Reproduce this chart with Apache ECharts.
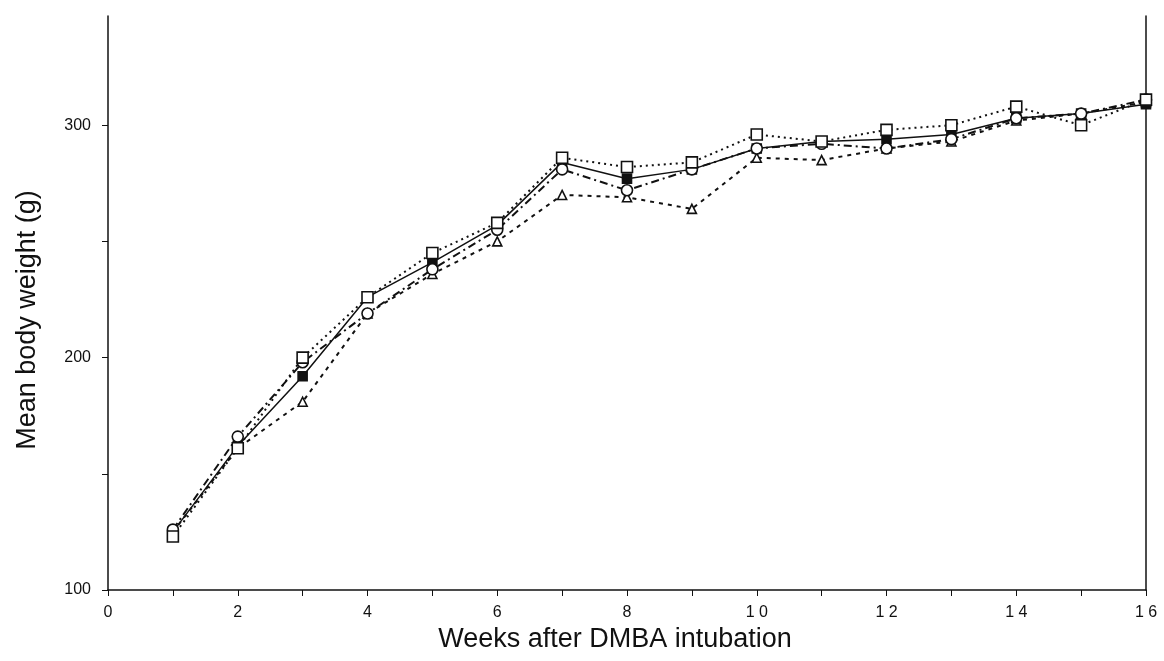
<!DOCTYPE html>
<html>
<head>
<meta charset="utf-8">
<script src="https://cdn.jsdelivr.net/npm/echarts@6/dist/echarts.min.js"></script>
<style>
  html, body { margin: 0; padding: 0; background: #fff; }
  #main { width: 1164px; height: 661px; }
</style>
</head>
<body>
<div id="main"></div>
<script>
// weeks after intubation
const weeks = [1, 2, 3, 4, 5, 6, 7, 8, 9, 10, 11, 12, 13, 14, 15, 16]
// mean body weight (g), one list per group
const solidSquare = [125, 162, 192, 226, 241, 257, 284, 277, 281, 290, 293, 294, 296, 303, 305, 309]
const dottedSquare = [123, 161, 200, 226, 245, 258, 286, 282, 284, 296, 293, 298, 300, 308, 300, 311]
const dashDotCircle = [126, 166, 198, 219, 238, 255, 281, 272, 281, 290, 292, 290, 294, 303, 305, 311]
const dashedTriangle = [125, 161, 181, 219, 236, 250, 270, 269, 264, 286, 285, 290, 293, 302, 305, 310]
const xLabels = [0, 2, 4, 6, 8, 10, 12, 14, 16]
const yTicks = [100, 150, 200, 250, 300]
const yLabels = [100, 200, 300]

const ink = '#111'
const font = 'Liberation Sans, Arial, sans-serif'

function pairs(vals) {
  return weeks.map((w, i) => [w, vals[i]])
}

function makeSeries(name, vals, dash, symbol, filled, size) {
  return {
    name: name,
    type: 'line',
    data: pairs(vals),
    symbol: symbol,
    symbolSize: size,
    showSymbol: true,
    lineStyle: { color: ink, width: dash === 'solid' ? 1.5 : 2, type: dash },
    itemStyle: { color: filled ? ink : '#fff', borderColor: ink, borderWidth: 1.6 },
    emphasis: { disabled: true },
    animation: false
  }
}

let chart = echarts.init(document.getElementById('main'), null, { renderer: 'canvas' })

let option = {
  backgroundColor: '#fff',
  animation: false,
  grid: { left: 108, right: 18, top: 16, bottom: 71 },
  xAxis: {
    type: 'value',
    min: 0,
    max: 16,
    interval: 1,
    name: 'Weeks after DMBA intubation',
    nameLocation: 'middle',
    nameGap: 33,
    nameTextStyle: { fontFamily: font, fontSize: 27, color: ink, padding: [0, 24, 0, 0] },
    axisLine: { show: true, onZero: false, lineStyle: { color: ink, width: 1.5 } },
    axisTick: { show: true, inside: false, length: 6, lineStyle: { color: ink } },
    axisLabel: {
      customValues: xLabels,
      margin: 15,
      fontFamily: font,
      fontSize: 16,
      color: ink,
      formatter: v => String(v).split('').join(' ')
    },
    splitLine: { show: false }
  },
  yAxis: [
    {
      type: 'value',
      min: 100,
      max: 347,
      interval: 50,
      name: 'Mean body weight (g)',
      nameLocation: 'middle',
      nameGap: 67,
      nameTextStyle: { fontFamily: font, fontSize: 27, color: ink, padding: [0, 34, 0, 0] },
      axisLine: { show: true, lineStyle: { color: ink, width: 1.5 } },
      axisTick: { show: true, length: 6, customValues: yTicks, lineStyle: { color: ink } },
      axisLabel: { customValues: yLabels, margin: 17, fontFamily: font, fontSize: 16, color: ink },
      splitLine: { show: false }
    },
    {
      type: 'value',
      min: 100,
      max: 347,
      position: 'right',
      axisLine: { show: true, lineStyle: { color: ink, width: 1.5 } },
      axisTick: { show: false },
      axisLabel: { show: false },
      splitLine: { show: false }
    }
  ],
  series: [
    makeSeries('solid filled square', solidSquare, 'solid', 'rect', true, 9),
    makeSeries('dashed triangle', dashedTriangle, [4, 5], 'triangle', false, 9),
    makeSeries('dash-dot circle', dashDotCircle, [8, 4, 2, 4], 'circle', false, 11),
    makeSeries('dotted square', dottedSquare, [2, 4], 'rect', false, 11)
  ]
}
chart.setOption(option)
</script>
</body>
</html>
